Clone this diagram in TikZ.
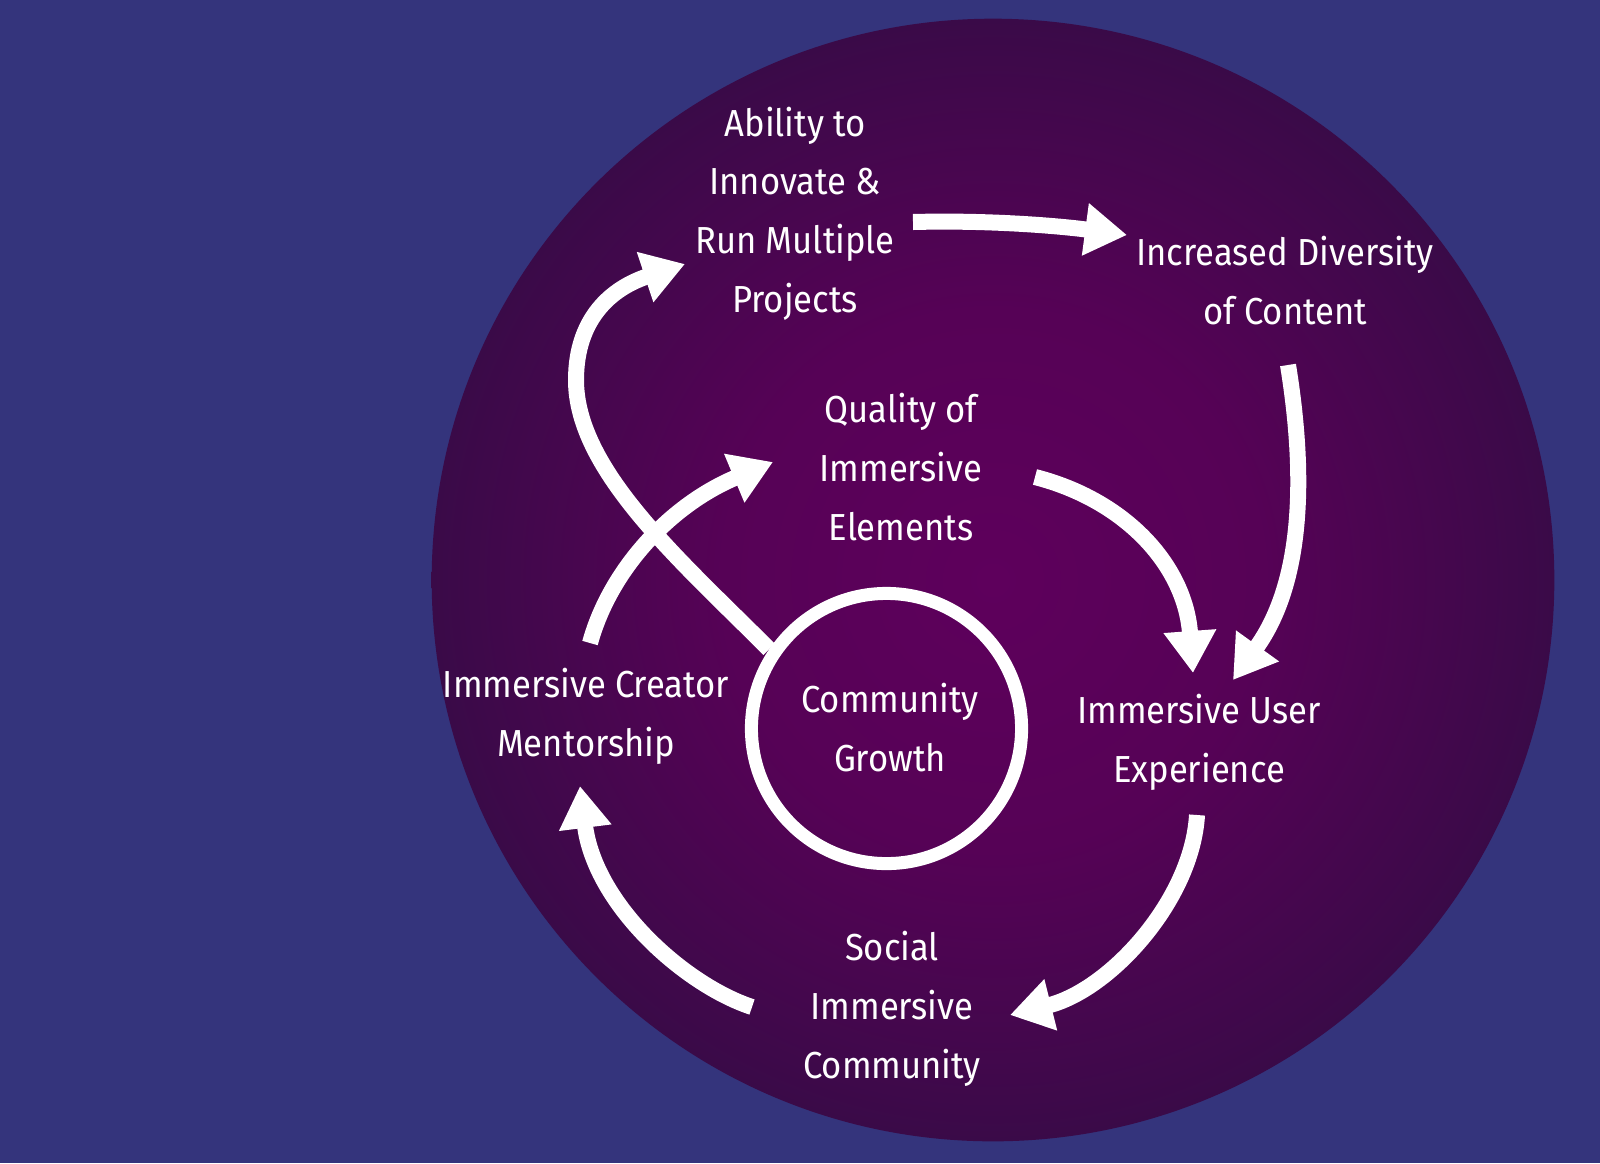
\documentclass[tikz,border=0pt]{standalone}
\usepackage{fontspec}
\setmainfont{Fira Sans}[FakeStretch=0.92]
\usetikzlibrary{arrows.meta}
\definecolor{bgblue}{RGB}{52,52,124}
\definecolor{glowin}{RGB}{94,0,92}
\definecolor{glowmid}{RGB}{86,2,86}
\definecolor{glowout}{RGB}{58,10,72}
\pgfdeclareradialshading{bigglow}{\pgfpoint{0bp}{0bp}}{color(0bp)=(glowin); color(12bp)=(glowmid); color(25bp)=(glowout); color(50bp)=(glowout)}
\begin{document}
\begin{tikzpicture}[x=0.01cm,y=-0.01cm,
  lbl/.style={text=white, align=center, anchor=base, inner sep=0pt, font=\fontsize{10.7pt}{16.64pt}\selectfont},
  flow/.style={draw=white, line width=0.16cm, -{Triangle[length=0.42cm,width=0.5cm]}},
  ringstyle/.style={draw=white, line width=0.13cm, circle, minimum size=2.7cm, inner sep=0pt}]
\fill[bgblue] (0,0) rectangle (1600,1163);
\useasboundingbox (0,0) rectangle (1600,1163);
\coordinate (C) at (993,580);
\shade[shading=bigglow] (C) circle[radius=5.61cm];

% labels (anchor = baseline of the last line)
\node[lbl] (abil) at (795,312) {Ability to\\Innovate \&\\Run Multiple\\Projects};
\node[lbl] (incr) at (1285,324) {Increased Diversity\\of Content};
\node[lbl] (qual) at (901,540) {Quality of\\Immersive\\Elements};
\node[lbl] (ment) at (586,756) {Immersive Creator\\Mentorship};
\node[lbl] (grow) at (890,771) {Community\\Growth};
\node[lbl] (iue) at (1199,782) {Immersive User\\Experience};
\node[lbl] (soc) at (892,1078) {Social\\Immersive\\Community};

% central ring
\node[ringstyle] (ring) at (886.5,728.5) {};

% arrow end points
\coordinate (a1s) at (913,222);  \coordinate (a1e) at (1127,235);
\coordinate (a2s) at (1288,365); \coordinate (a2e) at (1233,680);
\coordinate (a3s) at (1035,477); \coordinate (a3e) at (1193,673);
\coordinate (a4s) at (1197,815); \coordinate (a4e) at (1010,1015);
\coordinate (a5s) at (752,1007); \coordinate (a5e) at (580,786);
\coordinate (a6s) at (590,643);  \coordinate (a6e) at (773,462);
\coordinate (a7m) at (576,380);  \coordinate (a7e) at (685,264);

% arrows
\draw[flow] (a1s) .. controls (990,220) and (1060,226) .. (a1e);
\draw[flow] (a2s) .. controls (1305,470) and (1305,580) .. (a2e);
\draw[flow] (a3s) .. controls (1125,500) and (1185,565) .. (a3e);
\draw[flow] (a4s) .. controls (1192,900) and (1110,990) .. (a4e);
\draw[flow] (a5s) .. controls (685,985) and (595,905) .. (a5e);
\draw[flow] (a6s) .. controls (610,570) and (670,505) .. (a6e);
\draw[flow] (ring.146) .. controls (680,560) and (576,470) .. (a7m)
            .. controls (576,318) and (612,288) .. (a7e);
\end{tikzpicture}
\end{document}
